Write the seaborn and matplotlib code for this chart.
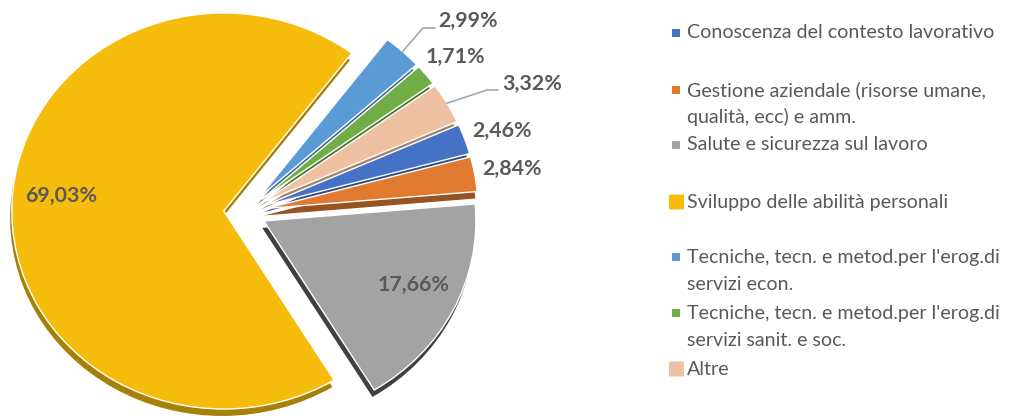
import numpy as np
import matplotlib
matplotlib.use("Agg")
import matplotlib.pyplot as plt
import matplotlib.colors as mcolors
from matplotlib.patches import FancyBboxPatch
import seaborn as sns

categories = ["Conoscenza del contesto lavorativo",
              "Gestione aziendale (risorse umane,\nqualità, ecc) e amm.",
              "Salute e sicurezza sul lavoro",
              "Sviluppo delle abilità personali",
              "Tecniche, tecn. e metod.per l'erog.di\nservizi econ.",
              "Tecniche, tecn. e metod.per l'erog.di\nservizi sanit. e soc.",
              "Altre"]
values = [2.46, 2.84, 17.66, 69.03, 2.99, 1.71, 3.32]
labels = ["2,46%", "2,84%", "17,66%", "69,03%", "2,99%", "1,71%", "3,32%"]
colors = ["#4472C4", "#E07A30", "#A3A3A3", "#F6BC0C", "#5B9BD5", "#70AD47", "#EEC1A2"]

sns.set_style("white")
plt.rcParams['font.family'] = ['Lato', 'DejaVu Sans']
TXT = "#595959"

W, H = 1009, 419
fig = plt.figure(figsize=(W / 100, H / 100), dpi=100)
ax = fig.add_axes([0, 0, 1, 1])
CX, CY, SX, SY = 245, 212, 212, 198


def px(x, y):
    return ((x - CX) / SX, (CY - y) / SY)


explode = [0.1] * len(values)
dark = [tuple(np.array(mcolors.to_rgb(c)) * 0.68) for c in colors]
dark[2] = "#404040"
# side / depth
ax.pie(values, colors=dark, startangle=24, counterclock=False, explode=explode,
       center=(-0.008, -0.035), frame=True, wedgeprops=dict(linewidth=0))
wedges, _ = ax.pie(values, colors=colors, startangle=24, counterclock=False,
                   explode=explode, frame=True,
                   wedgeprops=dict(edgecolor="white", linewidth=1))
ax.set_xlim(-CX / SX, (W - CX) / SX)
ax.set_ylim(-(H - CY) / SY, CY / SY)
ax.set_aspect("auto")
ax.axis("off")

renderer = fig.canvas.get_renderer()


def fit(text, target, weight="normal"):
    t = fig.text(0, 0, text, fontsize=12, fontweight=weight)
    w = t.get_window_extent(renderer).width
    t.remove()
    return 12 * target / w


# data labels
lab_fs = fit("17,66%", 72, "bold")
lab_pos = {"2,46%": (502, 131), "2,84%": (512, 169), "17,66%": (414, 285),
           "69,03%": (61, 196), "2,99%": (468, 21), "1,71%": (455, 57),
           "3,32%": (532, 84)}
for w, lab in zip(wedges, labels):
    ax.text(*px(*lab_pos[lab]), lab, ha="center", va="center",
            fontsize=lab_fs, fontweight="bold", color=TXT)

# leader lines
for i, (kx, ky, ex) in {4: (423, 28, 435), 6: (487, 90, 498)}.items():
    w = wedges[i]
    a = np.deg2rad((w.theta1 + w.theta2) / 2)
    x0 = w.center[0] + w.r * np.cos(a)
    y0 = w.center[1] + w.r * np.sin(a)
    k = px(kx, ky)
    e = px(ex, ky)
    ax.plot([x0, k[0], e[0]], [y0, k[1], e[1]], color="#A6A6A6", lw=1.2)

# legend
leg_fs = fit("Conoscenza del contesto lavorativo", 306)
rows = [33, 90, 145, 202, 257, 313, 369]
for cat, col, y in zip(categories, colors, rows):
    big = cat in ("Sviluppo delle abilità personali", "Altre")
    s = 15 if big else 8
    mx = 669 if big else 672
    fig.add_artist(FancyBboxPatch((mx / W, 1 - (y + s / 2) / H), s / W, s / H,
                                  boxstyle="round,pad=0,rounding_size=0.002" if big else "square,pad=0",
                                  transform=fig.transFigure, facecolor=col,
                                  edgecolor="none"))
    for j, line in enumerate(cat.split("\n")):
        fig.text(687 / W, 1 - (y + 27 * j) / H, line, ha="left", va="center",
                 fontsize=leg_fs, color=TXT)

fig.savefig("out.png", dpi=100)
